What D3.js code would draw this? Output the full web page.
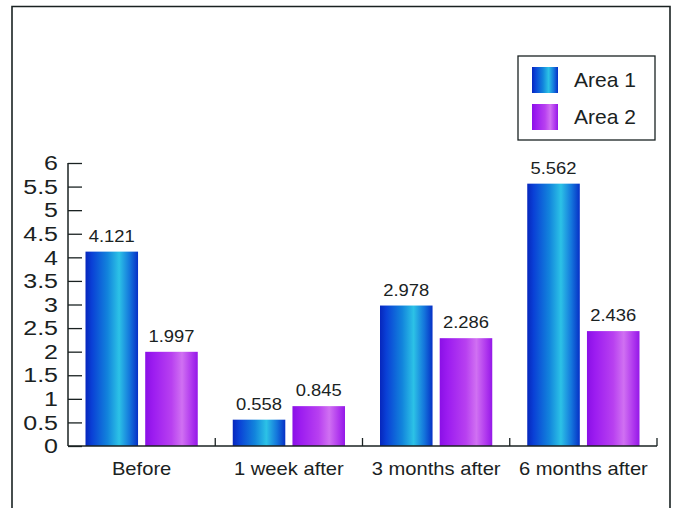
<!DOCTYPE html>
<html>
<head>
<meta charset="utf-8">
<script src="https://cdn.jsdelivr.net/npm/d3@7"></script>
<style>
  html, body { margin: 0; padding: 0; background: #fff; }
  svg { display: block; font-family: "Liberation Sans", Arial, sans-serif; }
</style>
</head>
<body>
<svg id="chart" width="676" height="508"></svg>
<script>
// Measurement periods and the two areas compared
const categories = ["Before", "1 week after", "3 months after", "6 months after"];
const seriesNames = ["Area 1", "Area 2"];
const area1 = [4.121, 0.558, 2.978, 5.562];
const area2 = [1.997, 0.845, 2.286, 2.436];
const yTicks = [0, 0.5, 1, 1.5, 2, 2.5, 3, 3.5, 4, 4.5, 5, 5.5, 6];

const seriesValues = [area1, area2];
const rows = categories.map((c, i) => ({
  category: c,
  values: seriesNames.map((s, j) => ({ series: s, idx: j, value: seriesValues[j][i] }))
}));

const svg = d3.select("#chart");
const ink = "#1a2222";

// Gradients giving the bars a rounded, cylindrical look
const defs = svg.append("defs");
const gradStops = [
  [[0, "#0626bc"], [0.12, "#0a40d6"], [0.42, "#1284dc"], [0.64, "#2cc2e6"], [0.84, "#1476dc"], [1, "#0630c6"]],
  [[0, "#8a10e6"], [0.15, "#9c1cf0"], [0.5, "#b840f0"], [0.7, "#d070f2"], [0.88, "#b038ee"], [1, "#9418e8"]]
];
gradStops.forEach((stops, j) => {
  const g = defs.append("linearGradient").attr("id", "grad" + j)
    .attr("x1", "0%").attr("x2", "100%").attr("y1", "0%").attr("y2", "0%");
  stops.forEach(([o, c]) => g.append("stop").attr("offset", o).attr("stop-color", c));
});

// Frame around the figure
svg.append("path")
  .attr("d", "M12,508 L12,6.5 L670,6.5 L670,508")
  .attr("fill", "none").attr("stroke", ink).attr("stroke-width", 1.6);

const plot = { left: 68, right: 657, top: 163, bottom: 446 };

const y = d3.scaleLinear().domain([0, 6]).range([plot.bottom, plot.top]);
const x0 = d3.scaleBand().domain(categories).range([plot.left, plot.right]).padding(0);
const x1 = d3.scaleBand().domain(seriesNames)
  .range([17.5, x0.bandwidth() - 17.5]).paddingInner(0.12).paddingOuter(0);

// Bars
const groups = svg.append("g").selectAll("g").data(rows).join("g")
  .attr("transform", d => `translate(${x0(d.category)},0)`);

groups.selectAll("rect").data(d => d.values).join("rect")
  .attr("x", d => x1(d.series))
  .attr("y", d => y(d.value))
  .attr("width", x1.bandwidth())
  .attr("height", d => y(0) - y(d.value))
  .attr("fill", d => `url(#grad${d.idx})`);

// Value labels above bars
groups.selectAll("text").data(d => d.values).join("text")
  .attr("transform", d => `translate(${x1(d.series) + x1.bandwidth() / 2},${y(d.value) - 10}) scale(1.15,1)`)
  .attr("text-anchor", "middle")
  .attr("font-size", 16)
  .attr("fill", ink)
  .text(d => d.value.toFixed(3));

// Y axis: ticks point into the plot
const yAxis = d3.axisRight(y).tickValues(yTicks).tickSize(14).tickFormat("");
const yg = svg.append("g").attr("transform", `translate(${plot.left},0)`).call(yAxis);
yg.select(".domain").remove();
yg.selectAll(".tick line").attr("stroke", ink).attr("stroke-width", 1.3);
svg.append("line")
  .attr("x1", plot.left).attr("x2", plot.left)
  .attr("y1", y(6)).attr("y2", y(0))
  .attr("stroke", ink).attr("stroke-width", 1.5);

// Wide tick numerals
svg.append("g").selectAll("text").data(yTicks).join("text")
  .attr("transform", d => `translate(58,${y(d)}) scale(1.25,1)`)
  .attr("dy", "0.36em")
  .attr("text-anchor", "end")
  .attr("font-size", 20)
  .attr("fill", ink)
  .text(d => String(d));

// X axis with small upward ticks at category boundaries
svg.append("line")
  .attr("x1", plot.left).attr("x2", plot.right)
  .attr("y1", y(0)).attr("y2", y(0))
  .attr("stroke", ink).attr("stroke-width", 1.5);
svg.append("g").selectAll("line").data(categories).join("line")
  .attr("x1", d => x0(d) + x0.bandwidth()).attr("x2", d => x0(d) + x0.bandwidth())
  .attr("y1", y(0)).attr("y2", y(0) - 8)
  .attr("stroke", ink).attr("stroke-width", 1.3);

svg.append("g").selectAll("text").data(categories).join("text")
  .attr("transform", d => `translate(${x0(d) + x0.bandwidth() / 2},475) scale(1.12,1)`)
  .attr("text-anchor", "middle")
  .attr("font-size", 18)
  .attr("fill", ink)
  .text(d => d);

// Legend
const legend = svg.append("g");
legend.append("rect")
  .attr("x", 518).attr("y", 56).attr("width", 137).attr("height", 84)
  .attr("fill", "#fff").attr("stroke", ink).attr("stroke-width", 1.3);
const items = legend.selectAll("g").data(seriesNames).join("g")
  .attr("transform", (d, i) => `translate(532,${67 + i * 37})`);
items.append("rect")
  .attr("width", 26).attr("height", 26)
  .attr("fill", (d, i) => `url(#grad${i})`);
items.append("text")
  .attr("x", 42).attr("y", 20)
  .attr("font-size", 21)
  .attr("fill", ink)
  .text(d => d);
</script>
</body>
</html>
